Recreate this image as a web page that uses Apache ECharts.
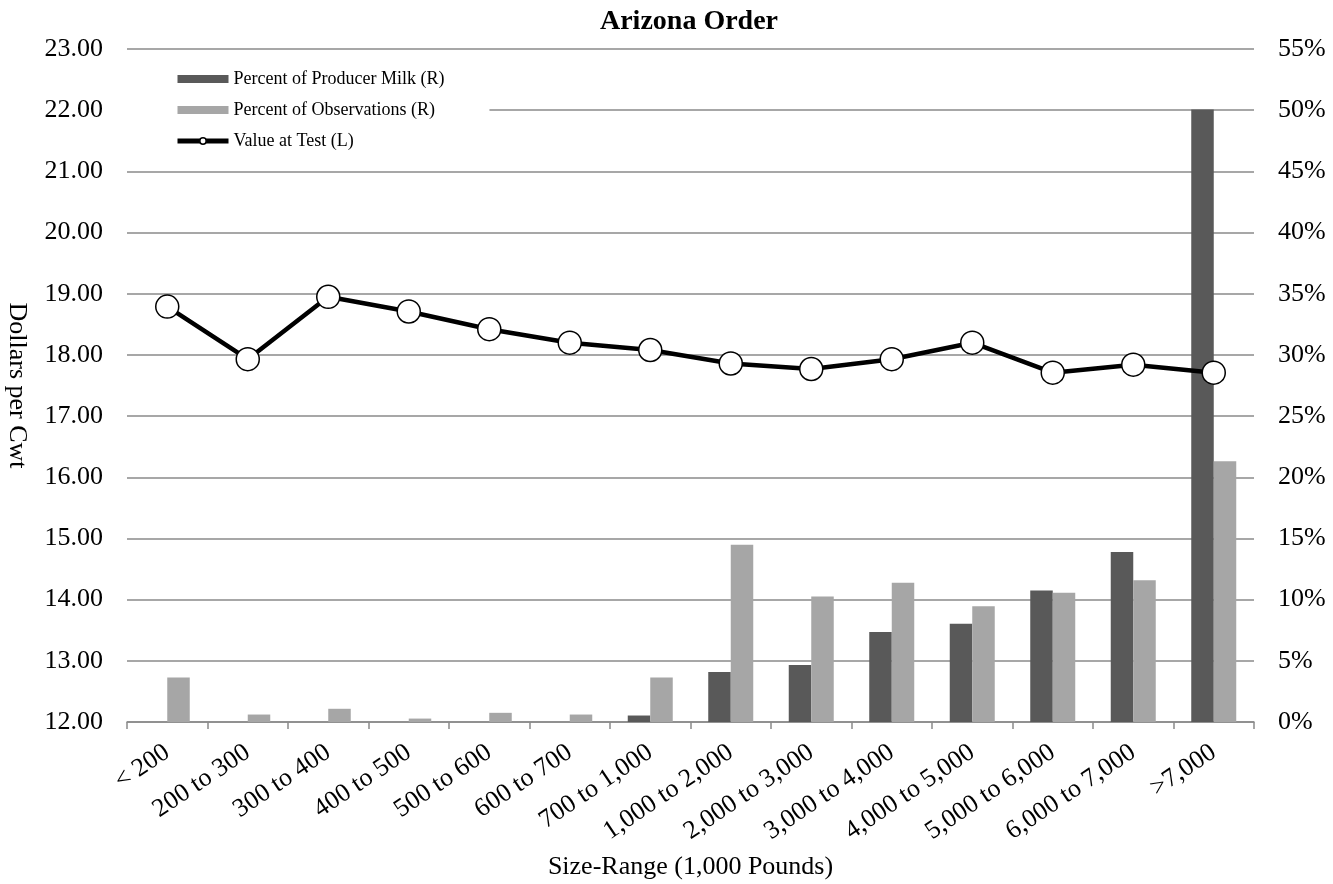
<!DOCTYPE html>
<html>
<head>
<meta charset="utf-8">
<title>Arizona Order</title>
<script src="https://cdn.jsdelivr.net/npm/echarts@6.0.0/dist/echarts.min.js"></script>
<style>
  html, body { margin: 0; padding: 0; background: #fff; }
  #chart { width: 1333px; height: 884px; }
</style>
</head>
<body>
<div id="chart"></div>
<script>
// size ranges (1,000 pounds)
var categories = ["< 200", "200 to 300", "300 to 400", "400 to 500", "500 to 600", "600 to 700",
  "700 to 1,000", "1,000 to 2,000", "2,000 to 3,000", "3,000 to 4,000", "4,000 to 5,000",
  "5,000 to 6,000", "6,000 to 7,000", ">7,000"];

// right axis, percent
var producerMilk = [0, 0, 0, 0, 0, 0, 0.53, 4.09, 4.65, 7.36, 8.03, 10.74, 13.9, 50.05];
var observations = [3.63, 0.61, 1.08, 0.28, 0.75, 0.61, 3.64, 14.48, 10.25, 11.37, 9.45, 10.57, 11.58, 21.3];

// left axis, dollars per cwt
var valueAtTest = [18.79, 17.93, 18.95, 18.71, 18.42, 18.20, 18.08, 17.86, 17.77, 17.93, 18.20, 17.71, 17.84, 17.71];

var font = "'Liberation Serif', 'Times New Roman', serif";
var gridColor = "#8a8a8a";

var chart = echarts.init(document.getElementById("chart"));

var option = {
  animation: false,
  backgroundColor: "#fff",
  textStyle: { fontFamily: font, color: "#000" },
  title: {
    text: "Arizona Order",
    left: 684,
    textAlign: "center",
    top: 3,
    padding: [5, 5],
    textStyle: { fontFamily: font, fontSize: 28, fontWeight: "bold", color: "#000" }
  },
  legend: {
    orient: "vertical",
    left: 127,
    top: 58,
    padding: [12, 45, 12, 48],
    backgroundColor: "#fff",
    itemWidth: 51,
    itemHeight: 8,
    itemGap: 13,
    textStyle: { fontFamily: font, fontSize: 18, color: "#000" },
    data: [
      { name: "Percent of Producer Milk (R)", icon: "rect" },
      { name: "Percent of Observations (R)", icon: "rect" },
      {
        name: "Value at Test (L)",
        lineStyle: { width: 5, color: "#000" },
        itemStyle: { color: "#fff", borderColor: "#000", borderWidth: 1.5 }
      }
    ]
  },
  grid: { left: 127, right: 79, top: 49, bottom: 162, outerBoundsMode: "none" },
  xAxis: {
    type: "category",
    data: categories,
    boundaryGap: true,
    name: "Size-Range (1,000 Pounds)",
    nameLocation: "middle",
    nameGap: 132,
    nameTextStyle: { fontFamily: font, fontSize: 26, color: "#000" },
    axisLine: { lineStyle: { color: gridColor, width: 1.5 } },
    axisTick: { show: true, length: 7, lineStyle: { color: gridColor, width: 1.5 } },
    axisLabel: {
      interval: 0,
      rotate: 34,
      margin: 28,
      fontFamily: font,
      fontSize: 26,
      color: "#000"
    }
  },
  yAxis: [{
    type: "value",
    min: 12,
    max: 23,
    interval: 1,
    name: "Dollars per Cwt",
    nameLocation: "middle",
    nameRotate: -90,
    nameGap: 97,
    nameTextStyle: { fontFamily: font, fontSize: 26, color: "#000" },
    axisLine: { show: false },
    axisTick: { show: false },
    axisLabel: {
      margin: 24,
      fontFamily: font,
      fontSize: 26,
      color: "#000",
      formatter: function (v) { return v.toFixed(2); }
    },
    splitLine: { lineStyle: { color: gridColor, width: 1.5 } }
  }, {
    type: "value",
    min: 0,
    max: 55,
    interval: 5,
    position: "right",
    axisLine: { show: false },
    axisTick: { show: false },
    axisLabel: {
      margin: 24,
      fontFamily: font,
      fontSize: 26,
      color: "#000",
      formatter: "{value}%"
    },
    splitLine: { show: false }
  }],
  series: [{
    name: "Percent of Producer Milk (R)",
    type: "bar",
    yAxisIndex: 1,
    barWidth: 22.5,
    barGap: "0%",
    itemStyle: { color: "#595959" },
    data: producerMilk
  }, {
    name: "Percent of Observations (R)",
    type: "bar",
    yAxisIndex: 1,
    barWidth: 22.5,
    barGap: "0%",
    itemStyle: { color: "#a6a6a6" },
    data: observations
  }, {
    name: "Value at Test (L)",
    type: "line",
    yAxisIndex: 0,
    symbol: "circle",
    symbolSize: 23,
    z: 5,
    lineStyle: { color: "#000", width: 4.5 },
    itemStyle: { color: "#fff", borderColor: "#000", borderWidth: 1.5 },
    data: valueAtTest
  }]
};

chart.setOption(option);
</script>
</body>
</html>
